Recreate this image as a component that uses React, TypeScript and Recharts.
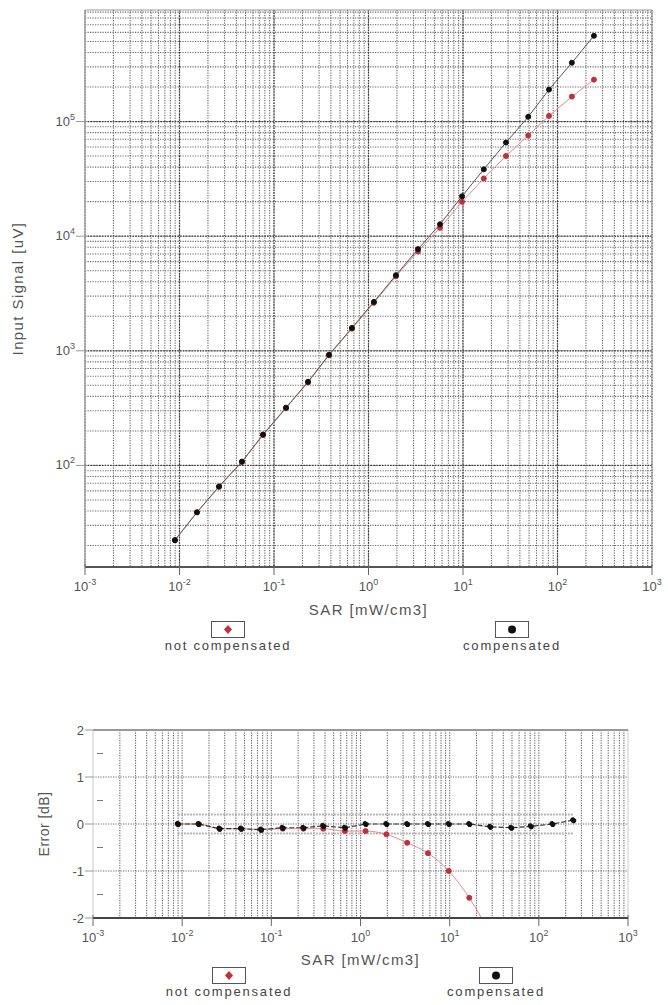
import React from "react";
import {
  LineChart,
  Line,
  XAxis,
  YAxis,
  CartesianGrid,
  ReferenceArea,
  ReferenceLine,
} from "recharts";

// SAR values of the 20 measurement points [mW/cm3]
const sar = [
  0.00895, 0.0153, 0.0262, 0.0458, 0.0766, 0.134, 0.229, 0.382, 0.668, 1.14,
  1.95, 3.34, 5.71, 9.77, 16.6, 28.5, 49.0, 81.3, 142, 243,
];
// input signal [uV]
const signalCompensated = [
  22.3, 39, 65.6, 108, 186, 319, 537, 923, 1585, 2670, 4570, 7710, 12700,
  22300, 38300, 65600, 110000, 190000, 326000, 560000,
];
const signalNotCompensated = [
  22.3, 39, 65, 107, 184, 316, 530, 912, 1560, 2620, 4460, 7360, 11830, 19950,
  31900, 50100, 75500, 112000, 165000, 232000,
];
// error [dB]
const errorCompensated = [
  0, 0, -0.1, -0.1, -0.12, -0.08, -0.08, -0.04, -0.08, 0, 0, 0, 0, 0, 0, -0.06,
  -0.08, -0.05, 0, 0.08,
];
const errorNotCompensated = [
  0, 0, -0.1, -0.1, -0.12, -0.1, -0.1, -0.1, -0.15, -0.15, -0.22, -0.4, -0.62,
  -1.0, -1.57, -2.34, -3.2, -4.6, -5.9, -7.7,
];
const toleranceBand = [0.2, -0.2];

const sarDecades = [1e-3, 1e-2, 1e-1, 1, 10, 100, 1000];
const signalDecades = [100, 1000, 10000, 100000];
const signalDomain = [13, 940000];
const errorTicks = [-2, -1, 0, 1, 2];
const errorMinorTicks = [-1.5, -0.5, 0.5, 1.5];
const errorGrid = [-1, 0, 1];

const minors = (decades: number[], lo: number, hi: number) => {
  const out: number[] = [];
  [decades[0] / 10, ...decades].forEach((d) => {
    for (let k = 1; k <= 9; k++) {
      const v = k * d;
      if (v > lo * 1.0001 && v < hi * 0.9999) out.push(v);
    }
  });
  return out;
};

const sarMinor = minors(sarDecades, 1e-3, 1e3);
const signalMinor = minors([10, ...signalDecades], signalDomain[0], signalDomain[1]);

const topData = sar.map((s, i) => ({
  sar: s,
  comp: signalCompensated[i],
  notComp: signalNotCompensated[i],
}));
const bottomData = sar.map((s, i) => ({
  sar: s,
  comp: errorCompensated[i],
  notComp: errorNotCompensated[i],
  upper: toleranceBand[0],
  lower: toleranceBand[1],
}));

const FONT = "'Liberation Sans', Arial, sans-serif";
const TXT = "#555";
const titleStyle = { fontSize: 15, fill: TXT, fontFamily: FONT, letterSpacing: 1.4 };

function PowLabel({ x, y, value, anchor }: any) {
  const exp = Math.round(Math.log10(value));
  return (
    <text x={x} y={y} textAnchor={anchor} fontSize={13} fill={TXT} fontFamily={FONT}>
      10
      <tspan dy={-6} fontSize={9}>
        {exp}
      </tspan>
    </text>
  );
}

function XTick({ x, y, payload }: any) {
  return (
    <g>
      <line x1={x} x2={x} y1={y - 3} y2={y + 8} stroke="#666" />
      <PowLabel x={x} y={y + 24} value={payload.value} anchor="middle" />
    </g>
  );
}

function SignalTick({ x, y, payload }: any) {
  return (
    <g>
      <line x1={x - 9} x2={x} y1={y} y2={y} stroke="#999" />
      <PowLabel x={x - 10} y={y + 4} value={payload.value} anchor="end" />
    </g>
  );
}

function ErrorTick({ x, y, payload }: any) {
  const v = payload.value;
  if (!Number.isInteger(v)) {
    return <line x1={x + 4} x2={x + 10} y1={y} y2={y} stroke="#777" />;
  }
  return (
    <g>
      <line x1={x - 8} x2={x} y1={y} y2={y} stroke="#999" />
      <text x={x - 9} y={y + 5} textAnchor="end" fontSize={13} fill={TXT} fontFamily={FONT}>
        {v}
      </text>
    </g>
  );
}

function LegendBox({ color, shape, label, left, width }: any) {
  return (
    <div
      style={{
        position: "absolute",
        left,
        width,
        textAlign: "center",
        fontFamily: FONT,
        fontSize: 13,
        letterSpacing: 1.8,
        color: "#444",
      }}
    >
      <svg width={34} height={17} style={{ display: "block", margin: "0 auto" }}>
        <rect x={0.5} y={0.5} width={33} height={16} fill="#fff" stroke="#555" />
        {shape === "diamond" ? (
          <path d="M17 4 L21 8.5 L17 13 L13 8.5 Z" fill={color} />
        ) : (
          <circle cx={17} cy={8.5} r={4} fill={color} />
        )}
      </svg>
      <div style={{ marginTop: 0, lineHeight: "15px" }}>{label}</div>
    </div>
  );
}

function Legends({ top, leftA, leftB }: any) {
  return (
    <div style={{ position: "absolute", top, left: 0, width: 668, height: 36 }}>
      <LegendBox color="#c0303a" shape="diamond" label="not compensated" left={leftA} width={150} />
      <LegendBox color="#111" shape="circle" label="compensated" left={leftB} width={120} />
    </div>
  );
}

export default function App() {
  return (
    <div style={{ position: "absolute", left: 0, top: 0, width: 668, height: 1005, background: "#fff" }}>
      <div style={{ position: "absolute", left: 0, top: 0 }}>
        <LineChart width={668} height={621} data={topData} margin={{ top: 10, right: 16, left: 10, bottom: 0 }}>
          <CartesianGrid
            verticalValues={sarMinor}
            horizontalValues={signalMinor}
            stroke="#6a6a6a"
            strokeWidth={1.1}
            strokeDasharray="1.2 1.3"
          />
          <CartesianGrid
            verticalValues={sarDecades}
            horizontalValues={signalDecades}
            stroke="#3a3a3a"
            strokeWidth={1.2}
            strokeDasharray="1.5 1.3"
          />
          <XAxis
            dataKey="sar"
            type="number"
            scale="log"
            domain={[1e-3, 1e3]}
            ticks={sarDecades}
            interval={0}
            allowDataOverflow
            tickSize={0}
            tickMargin={0}
            tick={<XTick />}
            axisLine={{ stroke: "#555", strokeWidth: 2 }}
            height={54}
            label={{ value: "SAR [mW/cm3]", position: "insideBottom", offset: 6, ...titleStyle }}
          />
          <YAxis
            type="number"
            scale="log"
            domain={signalDomain}
            ticks={signalDecades}
            interval={0}
            allowDataOverflow
            tickSize={0}
            tickMargin={0}
            tick={<SignalTick />}
            axisLine={{ stroke: "#aaa" }}
            width={75}
            label={{
              value: "Input Signal [uV]",
              angle: -90,
              position: "insideLeft",
              offset: 8,
              ...titleStyle,
              style: { textAnchor: "middle" },
            }}
          />
          <ReferenceArea
            x1={1e-3}
            x2={1e3}
            y1={signalDomain[0]}
            y2={signalDomain[1]}
            fill="none"
            stroke="#999"
            ifOverflow="visible"
          />
          <Line
            dataKey="notComp"
            stroke="#e88a90"
            strokeWidth={1}
            dot={{ r: 2.5, fill: "#c0303a", stroke: "#c0303a" }}
            isAnimationActive={false}
          />
          <Line
            dataKey="comp"
            stroke="#555"
            strokeWidth={1}
            dot={{ r: 2.5, fill: "#111", stroke: "#111" }}
            isAnimationActive={false}
          />
        </LineChart>
      </div>
      <Legends top={621} leftA={153} leftB={452} />

      <div style={{ position: "absolute", left: 0, top: 700 }}>
        <LineChart width={668} height={268} data={bottomData} margin={{ top: 30, right: 40, left: 10, bottom: 0 }}>
          <CartesianGrid
            verticalValues={sarMinor}
            horizontalValues={errorGrid}
            stroke="#6a6a6a"
            strokeWidth={1.1}
            strokeDasharray="1.2 1.3"
          />
          <XAxis
            dataKey="sar"
            type="number"
            scale="log"
            domain={[1e-3, 1e3]}
            ticks={sarDecades}
            interval={0}
            allowDataOverflow
            tickSize={0}
            tickMargin={0}
            tick={<XTick />}
            axisLine={{ stroke: "#444", strokeWidth: 2 }}
            height={50}
            label={{ value: "SAR [mW/cm3]", position: "insideBottom", offset: 3, ...titleStyle }}
          />
          <YAxis
            type="number"
            domain={[-2, 2]}
            ticks={[...errorTicks, ...errorMinorTicks]}
            interval={0}
            allowDataOverflow
            tickSize={0}
            tickMargin={0}
            tick={<ErrorTick />}
            axisLine={false}
            width={83}
            label={{
              value: "Error [dB]",
              angle: -90,
              position: "insideLeft",
              offset: 34,
              ...titleStyle,
              fontSize: 14,
              letterSpacing: 0.5,
              style: { textAnchor: "middle" },
            }}
          />
          <ReferenceArea x1={1e-3} x2={1e3} y1={-2} y2={2} fill="none" stroke="#ccc" ifOverflow="visible" />
          <ReferenceLine y={2} stroke="#999" strokeWidth={2} ifOverflow="visible" />
          <Line dataKey="upper" stroke="#b5b5b5" strokeWidth={2} strokeDasharray="2 1" dot={false} isAnimationActive={false} />
          <Line dataKey="lower" stroke="#b5b5b5" strokeWidth={2} strokeDasharray="2 1" dot={false} isAnimationActive={false} />
          <Line
            dataKey="notComp"
            type="monotone"
            stroke="#e88a90"
            strokeWidth={1}
            dot={{ r: 2.5, fill: "#c0303a", stroke: "#c0303a" }}
            isAnimationActive={false}
          />
          <Line
            dataKey="comp"
            stroke="#333"
            strokeWidth={1.2}
            strokeDasharray="5 2"
            dot={{ r: 2.5, fill: "#111", stroke: "#111" }}
            isAnimationActive={false}
          />
        </LineChart>
      </div>
      <Legends top={967} leftA={154} leftB={436} />
    </div>
  );
}
